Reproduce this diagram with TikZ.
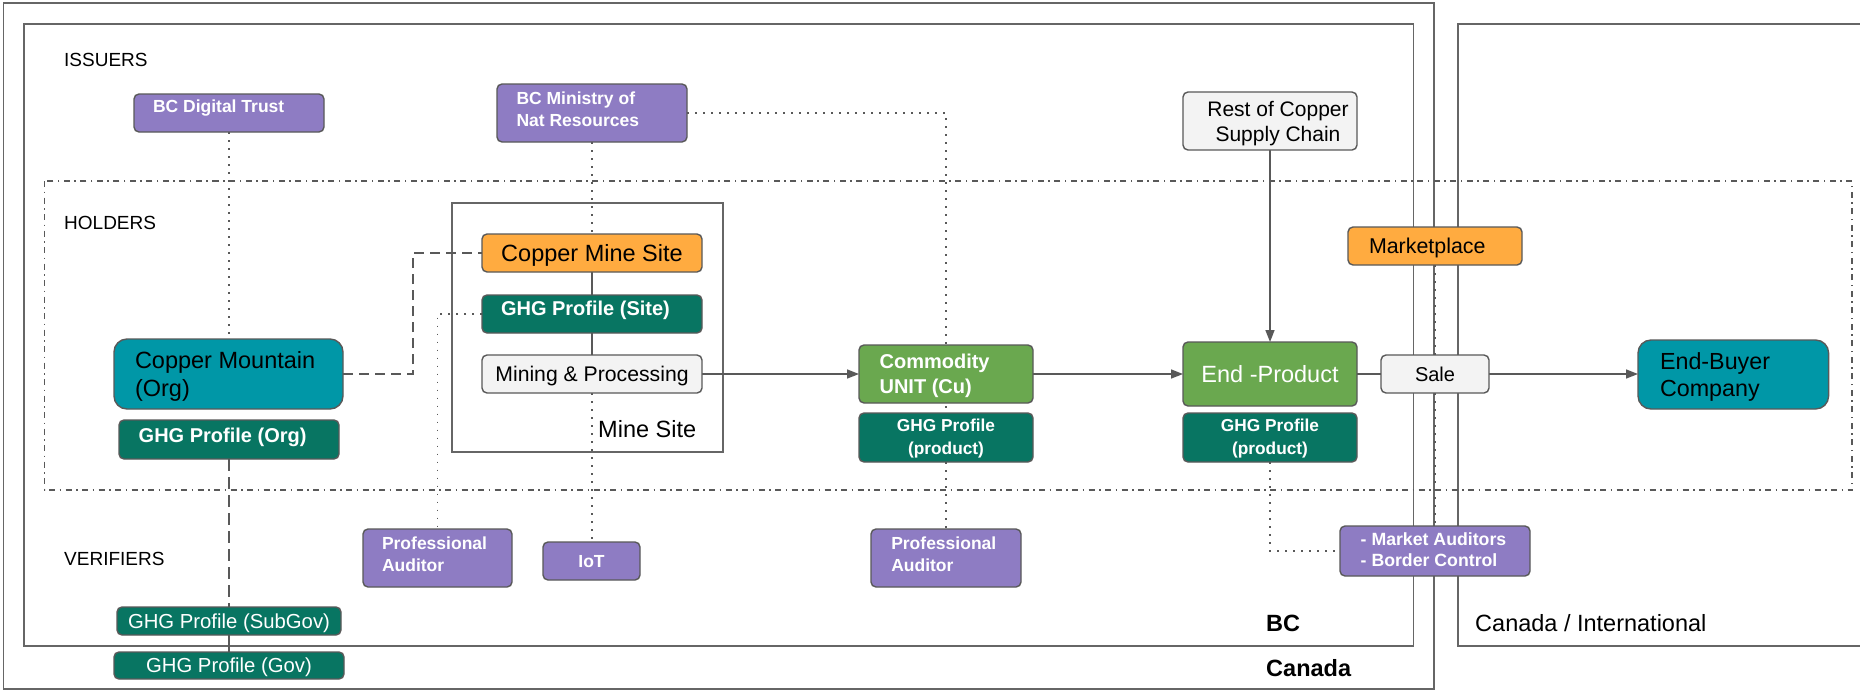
\documentclass[tikz,border=0pt]{standalone}
\usepackage{fontspec}
\setmainfont{Liberation Sans}
\usetikzlibrary{arrows.meta}
\definecolor{edge}{HTML}{595959}
\definecolor{frm}{HTML}{666666}
\definecolor{purp}{HTML}{8E7CC3}
\definecolor{tealc}{HTML}{0097A7}
\definecolor{ghg}{HTML}{087562}
\definecolor{lgreen}{HTML}{6AA84F}
\definecolor{orng}{HTML}{FFAB40}
\definecolor{lgray}{HTML}{F3F3F3}
\pgfdeclarelayer{bg}
\pgfsetlayers{bg,main}
\newcommand\lbtxt[2]{\makebox[#1pt][l]{\begin{tabular}[b]{@{}l@{}}#2\end{tabular}}}
\newcommand\cbtxt[1]{\begin{tabular}[b]{@{}c@{}}#1\end{tabular}}
\begin{document}
\begin{tikzpicture}[x=1pt,y=-1pt,
  box/.style={draw=edge, line width=1.4pt, rounded corners=5pt, inner sep=0pt, outer sep=0pt},
  bigbox/.style={box, rounded corners=13pt},
  sz/.style n args={4}{minimum width=#1pt, minimum height=#2pt, text height=#3pt, text depth=#4pt},
  purpbox/.style={box, fill=purp, text=white},
  ghgbox/.style={box, fill=ghg, text=white},
  greenbox/.style={box, fill=lgreen, text=white},
  orngbox/.style={box, fill=orng, text=black},
  graybox/.style={box, fill=lgray, text=black},
  tealbox/.style={bigbox, fill=tealc, text=black},
  lbl/.style={inner sep=0pt, anchor=base west, text=black},
  frame/.style={draw=frm, line width=1.8pt},
  ddot/.style={draw=edge, line width=1.4pt, dash pattern=on 6pt off 4.5pt on 1.5pt off 4.5pt},
  conn/.style={draw=edge, line width=1.5pt},
  dotc/.style={conn, dash pattern=on 1.8pt off 6.2pt},
  dashc/.style={conn, dash pattern=on 10pt off 6pt},
  ldashc/.style={conn, dash pattern=on 12pt off 6pt},
  arr/.style={conn, -{Triangle[length=12pt,width=9pt]}}
]
\useasboundingbox (0,0) rectangle (1860,691);

% ---------- section labels ----------
\node[lbl, font=\fontsize{19}{23}\selectfont] (issuers) at (64,66.8) {ISSUERS};
\node[lbl, font=\fontsize{19}{23}\selectfont] (holders) at (64,229.8) {HOLDERS};
\node[lbl, font=\fontsize{19}{23}\selectfont] (verifiers) at (64,565.8) {VERIFIERS};
\node[lbl, font=\fontsize{23.5}{28}\selectfont] (minesite) at (598,437.7) {Mine Site};
\node[lbl, font=\fontsize{23.5}{28}\selectfont\bfseries] (bclbl) at (1266,631.7) {BC};
\node[lbl, font=\fontsize{23.5}{28}\selectfont\bfseries] (canlbl) at (1266,676) {Canada};
\node[lbl, font=\fontsize{23.5}{28}\selectfont] (intl) at (1475,631.7) {Canada / International};

% ---------- issuers ----------
\node[purpbox, font=\fontsize{17.5}{21.7}\selectfont\bfseries, sz={190}{38}{12.5}{14}] (bcdt) at (229,113) {\lbtxt{152}{BC Digital Trust}};
\node[purpbox, font=\fontsize{17.5}{21.7}\selectfont\bfseries, sz={190}{58}{34.2}{8}] (bcmin) at (592,113) {\lbtxt{151}{BC Ministry of\\Nat Resources}};
\node[graybox, font=\fontsize{21}{25}\selectfont, sz={174}{58}{40}{0}] (rest) at (1270,121) {\hspace*{16pt}\cbtxt{Rest of Copper\\Supply Chain}};

% ---------- holders ----------
\node[orngbox, font=\fontsize{23.5}{28}\selectfont, sz={220}{38}{16.8}{0}] (cms) at (592,253) {\cbtxt{Copper Mine Site}};
\node[ghgbox, font=\fontsize{20}{25}\selectfont\bfseries, sz={220}{38}{14.3}{11}] (ghgsite) at (592,314) {\lbtxt{182}{GHG Profile (Site)}};
\node[graybox, font=\fontsize{21.2}{25}\selectfont, sz={220}{38}{15.2}{0}] (mining) at (592,374) {\cbtxt{Mining \& Processing}};
\node[tealbox, font=\fontsize{23.5}{28}\selectfont, sz={229}{70}{44.8}{0}] (cmtn) at (228.5,374) {\lbtxt{187}{Copper Mountain\\(Org)}};
\node[ghgbox, font=\fontsize{20}{25}\selectfont\bfseries, sz={220}{39}{14.3}{8}] (ghgorg) at (229,439.5) {\lbtxt{180.6}{GHG Profile (Org)}};
\node[greenbox, font=\fontsize{20}{25}\selectfont\bfseries, sz={174}{58}{39.3}{0}] (commodity) at (946,374) {\lbtxt{132.8}{Commodity\\UNIT (Cu)}};
\node[ghgbox, font=\fontsize{17.3}{22.3}\selectfont\bfseries, sz={174}{49}{34.7}{1.6}] (ghgp1) at (946,437.5) {\cbtxt{GHG Profile\\(product)}};
\node[greenbox, font=\fontsize{23.5}{28}\selectfont, sz={174}{64}{16.8}{0}] (endp) at (1270,374) {\cbtxt{End -Product}};
\node[ghgbox, font=\fontsize{17.3}{22.3}\selectfont\bfseries, sz={174}{49}{34.7}{1.6}] (ghgp2) at (1270,437.5) {\cbtxt{GHG Profile\\(product)}};
\node[orngbox, font=\fontsize{21.4}{25}\selectfont, sz={174}{38}{15.3}{0}] (market) at (1435,246) {\lbtxt{132}{Marketplace}};
\node[graybox, font=\fontsize{20}{25}\selectfont, sz={108}{38}{14.3}{0}] (sale) at (1435,374) {\cbtxt{Sale}};
\node[tealbox, font=\fontsize{23.3}{27}\selectfont, sz={190.6}{69}{43.7}{0}] (endbuyer) at (1733.3,374.5) {\lbtxt{146.6}{End-Buyer\\Company}};

% ---------- verifiers ----------
\node[purpbox, font=\fontsize{17.5}{21.7}\selectfont\bfseries, sz={149}{58}{34.2}{8}] (pa1) at (437.5,558) {\lbtxt{111}{Professional\\Auditor}};
\node[purpbox, font=\fontsize{17.5}{21.7}\selectfont\bfseries, sz={97}{38}{12.5}{0}] (iot) at (591.5,561) {\cbtxt{IoT}};
\node[purpbox, font=\fontsize{17.5}{21.7}\selectfont\bfseries, sz={150}{58}{34.2}{8}] (pa2) at (946,558) {\lbtxt{109.5}{Professional\\Auditor}};
\node[purpbox, font=\fontsize{17.7}{21.7}\selectfont\bfseries, sz={190}{50}{34.4}{2.6}] (mauditors) at (1435,551) {\lbtxt{148.6}{- Market Auditors\\- Border Control}};
\node[ghgbox, font=\fontsize{20.3}{25}\selectfont, sz={224}{28}{14.5}{0}] (subgov) at (229,621) {\cbtxt{GHG Profile (SubGov)}};
\node[ghgbox, font=\fontsize{20.3}{25}\selectfont, sz={230}{27}{14.5}{0}] (gov) at (229,665.5) {\cbtxt{GHG Profile (Gov)}};

\coordinate (cmj) at (413,374);

\begin{pgfonlayer}{bg}
\fill[white] (0,0) rectangle (1860,691);
% containers
\draw[frame] (3.5,3) rectangle (1434,689);
\draw[frame] (24,24) rectangle (1413.5,646);
\draw[frame] (1880,24) -- (1458,24) -- (1458,646) -- (1880,646);
\draw[frame] (452,203) rectangle (723,452);
\draw[ddot] (44.5,181) rectangle (1852,490);
% connectors
\draw[dotc] (bcdt.south) -- (bcdt.south |- cmtn.north);
\draw[dotc] (bcmin.south) -- (cms.north);
\draw[dotc] (bcmin.east) -| (pa2.north);
\draw[conn] (cms.south) -- (ghgsite.north);
\draw[conn] (ghgsite.south) -- (mining.north);
\draw[dotc] (mining.south) -- (mining.south |- iot.north);
\draw[dotc] (ghgsite.west) -| (pa1.north);
\draw[dashc] (cmtn.east) -- (cmj) |- (cms.west);
\draw[ldashc] (ghgorg.south) -- (subgov.north);
\draw[conn] (subgov.south) -- (gov.north);
\draw[arr] (mining.east) -- (commodity.west);
\draw[arr] (commodity.east) -- (endp.west);
\draw[arr] (rest.south) -- (endp.north);
\draw[conn] (endp.east) -- (sale.west);
\draw[arr] (sale.east) -- (sale.east -| endbuyer.west);
\draw[dotc] (market.south) -- (sale.north);
\draw[dotc] (sale.south) -- (mauditors.north);
\draw[dotc] (ghgp2.south) |- (mauditors.west);
\end{pgfonlayer}
\end{tikzpicture}
\end{document}
